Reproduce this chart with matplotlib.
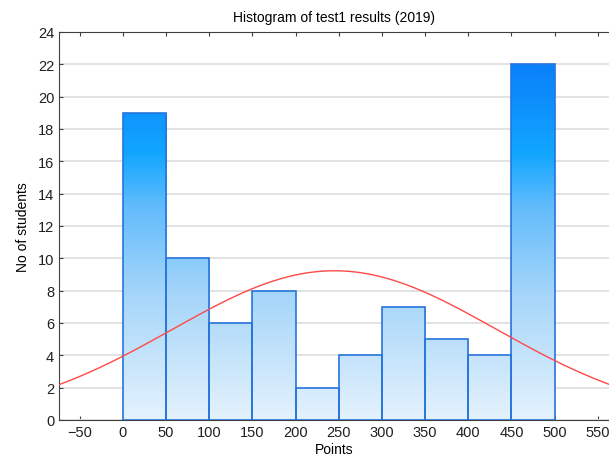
import numpy as np
import matplotlib.pyplot as plt
from matplotlib.colors import LinearSegmentedColormap

plt.rcParams['font.family'] = ['Liberation Sans', 'DejaVu Sans']

# histogram of test results, bins of 50 points
bin_edges = [0, 50, 100, 150, 200, 250, 300, 350, 400, 450, 500]
counts = [19, 10, 6, 8, 2, 4, 7, 5, 4, 22]

# fitted normal curve
mu = 245
sigma = 188

xticks = [-50, 0, 50, 100, 150, 200, 250, 300, 350, 400, 450, 500, 550]
yticks = [0, 2, 4, 6, 8, 10, 12, 14, 16, 18, 20, 22, 24]

fig = plt.figure(figsize=(6.09, 4.6), dpi=100)
ax = fig.add_axes([0.097, 0.0848, 0.903, 0.8435])

ax.set_xticks(xticks)
ax.set_yticks(yticks)
ax.set_xticklabels(['\u221250' if t == -50 else str(t) for t in xticks])
ax.yaxis.grid(True, color='#e2e2e2', linewidth=1.4)
ax.set_axisbelow(True)

cmap = LinearSegmentedColormap.from_list(
    'bars', [(0.0, '#e4f2fd'), (0.35, '#a6d6f9'), (0.6, '#62bcfc'),
             (0.75, '#12a6ff'), (1.0, '#0a80fb')])

edges = np.array(bin_edges)
lefts = edges[:-1]
widths = np.diff(edges)
bars = ax.bar(lefts, counts, width=widths, align='edge',
              facecolor='none', edgecolor='#2774dc', linewidth=1.2, zorder=3)

# vertical colour gradient inside each bar, tied to absolute height
ymax = 22.0
for rect, h in zip(bars, counts):
    x0 = rect.get_x()
    w = rect.get_width()
    grad = np.linspace(0, h / ymax, 200).reshape(-1, 1)
    im = ax.imshow(grad, cmap=cmap, vmin=0, vmax=1, origin='lower',
                   extent=[x0, x0 + w, 0, h], aspect='auto', zorder=2,
                   interpolation='bilinear')
    im.set_clip_path(rect)
ax.set_xlim(-74, 563)
ax.set_ylim(0, 24)

xs = np.linspace(-74, 563, 400)
total = sum(counts) * 50
curve = total / (sigma * np.sqrt(2 * np.pi)) * np.exp(-(xs - mu) ** 2 / (2 * sigma ** 2))
ax.plot(xs, curve, color='#ff4848', linewidth=1.0, zorder=4)

for side in ['left', 'top', 'bottom']:
    ax.spines[side].set_color('#404040')
ax.spines['right'].set_visible(False)
ax.tick_params(direction='in', top=True, length=3, color='#404040',
               labelsize=10.5, labelcolor='#202020')

ax.set_title('Histogram of test1 results (2019)', fontsize=10, pad=8)
ax.set_xlabel('Points', fontsize=10, labelpad=2)
ax.set_ylabel('No of students', fontsize=10, labelpad=6)

fig.savefig('out.png', dpi=100)
